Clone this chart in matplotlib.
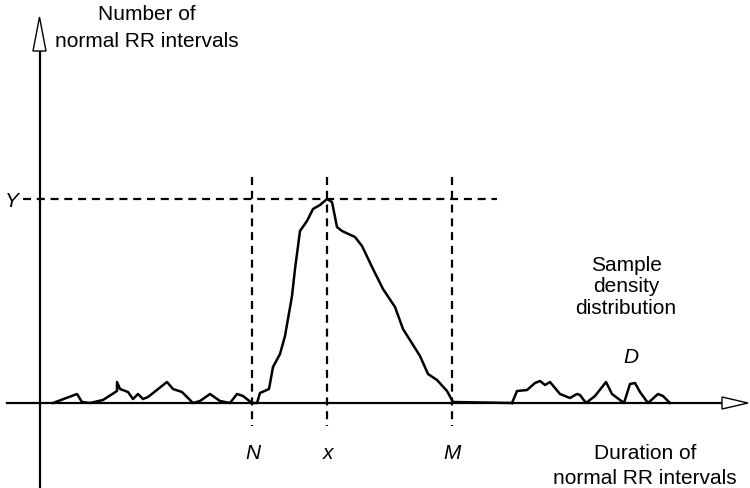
import matplotlib.pyplot as plt
from matplotlib.patches import Polygon

plt.rcParams['font.family'] = ['Liberation Sans', 'DejaVu Sans']

# sample density curve: RR duration (x) vs count above baseline
rr_duration = [53, 77, 82, 90, 103, 117, 117, 120, 128, 133, 138, 143, 148, 167, 173,
               182, 193, 200, 210, 220, 230, 237, 243, 252, 257, 260, 269, 273, 280,
               285, 292, 295, 300, 307, 313, 320, 327, 332, 337, 342, 355, 362, 373,
               383, 395, 403, 420, 428, 437, 447, 453, 512]
rr_count = [0, 9, 1, 0, 3, 12, 21, 14, 11, 4, 9, 4, 6, 21, 14,
            11, 0, 2, 9, 2, 0, 9, 7, 0, 0, 10, 14, 36, 49,
            67, 107, 134, 172, 182, 194, 198, 204, 201, 176, 172, 166, 157, 134,
            114, 96, 74, 47, 29, 23, 12, 1, 0]

# small bumps on the right tail
tail_duration = [512, 517, 527, 535, 540, 545, 550, 560, 570, 577, 580, 586, 595, 606,
                 612, 624, 630, 635, 640, 648, 658, 663, 670]
tail_count = [0, 12, 13, 20, 22, 18, 21, 9, 5, 9, 8, 0, 7, 21,
              9, 0, 19, 20, 11, 0, 9, 7, 0]

mode_x, mode_y = 327, 204
n_x, m_x = 252, 452

fig = plt.figure(figsize=(7.5, 4.89), dpi=100)
ax = fig.add_axes([0, 0, 1, 1])
ax.set_xlim(0, 750)
ax.set_ylim(-85, 404)
ax.axis('off')

# axes with open arrowheads
ax.plot([7, 722], [0, 0], color='black', lw=1.6, zorder=3)
ax.plot([40, 40], [-85, 352], color='black', lw=1.6, zorder=3)
ax.add_patch(Polygon([[722, 6], [722, -6], [748, 0]], closed=True,
                     facecolor='white', edgecolor='black', lw=1.0, zorder=4))
ax.add_patch(Polygon([[33, 352], [46, 352], [39.5, 386]], closed=True,
                     facecolor='white', edgecolor='black', lw=1.0, zorder=4))

# dashed guides
dash = dict(color='black', lw=1.6, linestyle=(0, (3.6, 2.6)))
ax.plot([23, 497], [mode_y, mode_y], **dash)
for gx in (n_x, mode_x, m_x):
    ax.plot([gx, gx], [226, -23], **dash)

curve = dict(color='black', lw=1.8, zorder=5, solid_joinstyle='round')
ax.plot(rr_duration, rr_count, **curve)
ax.plot(tail_duration, tail_count, **curve)

fs = 15
txt = dict(ha='center', va='baseline', fontsize=fs)
ax.text(147, 384, 'Number of', **txt)
ax.text(147, 357, 'normal RR intervals', **txt)
ax.text(12, 197, 'Y', style='italic', **txt)
ax.text(n_x + 1, -55, 'N', style='italic', **txt)
ax.text(mode_x + 1, -55, 'x', style='italic', **txt)
ax.text(m_x, -55, 'M', style='italic', **txt)
ax.text(631, 41, 'D', style='italic', **txt)
ax.text(626, 133, 'Sample', **txt)
ax.text(626, 112, 'density', **txt)
ax.text(626, 90, 'distribution', **txt)
ax.text(645, -55, 'Duration of', **txt)
ax.text(645, -80, 'normal RR intervals', **txt)

fig.savefig('out.png', dpi=100)
